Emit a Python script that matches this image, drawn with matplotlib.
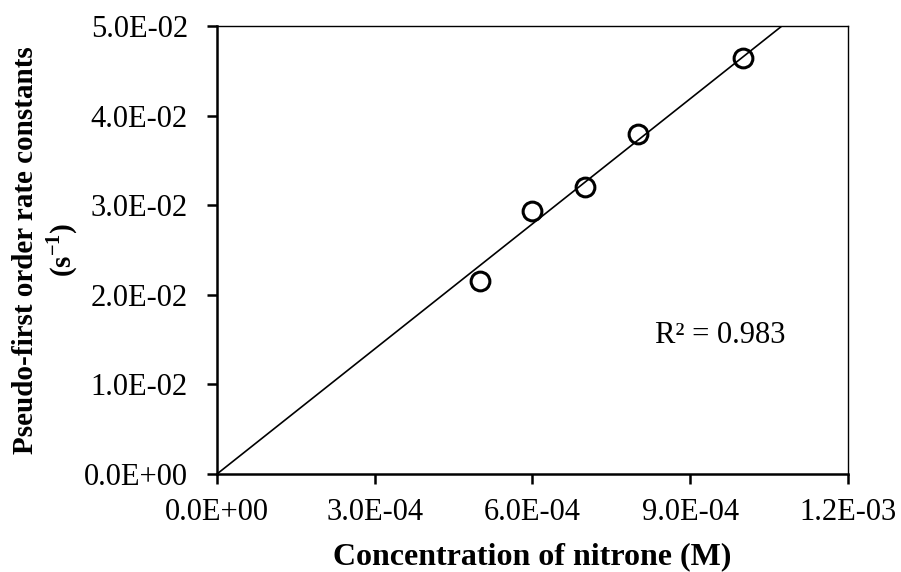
import numpy as np
import matplotlib
matplotlib.use("Agg")
import matplotlib.pyplot as plt
from matplotlib.ticker import FixedLocator, FuncFormatter

# ---------------------------
# Data
# ---------------------------

conc = [5.0e-4, 6.0e-4, 7.0e-4, 8.0e-4, 1.0e-3]        # M
k_obs = [0.0215, 0.0293, 0.0320, 0.0380, 0.0464]      # s^-1
r2_text = "R² = 0.983"

x_ticks = [0.0, 3.0e-4, 6.0e-4, 9.0e-4, 1.2e-3]
y_ticks = [0.0, 0.01, 0.02, 0.03, 0.04, 0.05]

# ---------------------------
# Style
# ---------------------------

plt.rcParams['font.family'] = ['Liberation Serif', 'DejaVu Serif']
plt.rcParams['mathtext.fontset'] = 'custom'
plt.rcParams['mathtext.rm'] = 'Liberation Serif'
plt.rcParams['mathtext.bf'] = 'Liberation Serif:bold'

fig = plt.figure(figsize=(9.01, 5.72), dpi=100)
ax = fig.add_axes([0.2408, 0.1713, 0.7004, 0.7832])

# trendline forced through origin (Excel "set intercept = 0")
x = np.array(conc)
y = np.array(k_obs)
slope = np.sum(x * y) / np.sum(x * x)
x_end = 0.05 / slope
ax.plot([0, x_end], [0, slope * x_end], color='black', lw=1.2, zorder=2)

ax.plot(conc, k_obs, linestyle='none', marker='o', markersize=13.5,
        markerfacecolor='none', markeredgecolor='black', markeredgewidth=2.2,
        zorder=3)

ax.text(8.33e-4, 0.0155, r2_text, fontsize=22, ha='left', va='center')

ax.set_xlim(0, 1.2e-3)
ax.set_ylim(0, 0.05)
ax.xaxis.set_major_locator(FixedLocator(x_ticks))
ax.yaxis.set_major_locator(FixedLocator(y_ticks))

def sci(v, pos):
    return f"{v:.1E}"

ax.xaxis.set_major_formatter(FuncFormatter(sci))
ax.yaxis.set_major_formatter(FuncFormatter(sci))

ax.tick_params(direction='out', length=7, width=1.8, labelsize=22)
ax.tick_params(axis='x', pad=10)
ax.tick_params(axis='y', pad=14)

for side in ['left', 'bottom']:
    ax.spines[side].set_linewidth(1.8)
for side in ['top', 'right']:
    ax.spines[side].set_linewidth(1.0)

ax.set_xlabel("Concentration of nitrone (M)", fontsize=23, fontweight='bold', labelpad=11)
ax.set_ylabel("Pseudo-first order rate constants\n" + r"(s$^{\mathbf{-1}}$)",
              fontsize=21, fontweight='bold', labelpad=3, linespacing=1.2)

fig.savefig("out.png", dpi=100)
